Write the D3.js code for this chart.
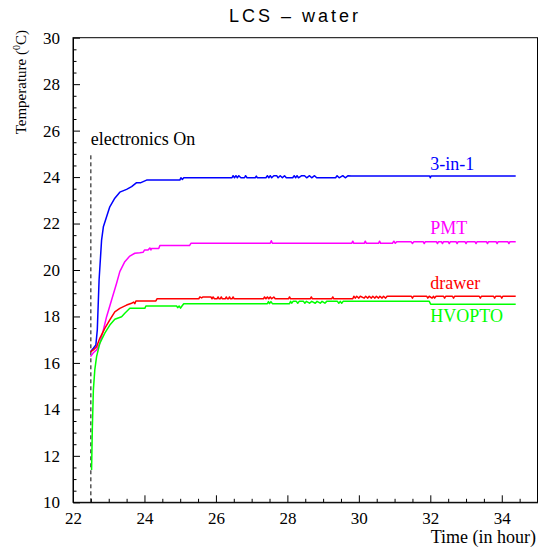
<!DOCTYPE html>
<html>
<head>
<meta charset="utf-8">
<script src="https://cdn.jsdelivr.net/npm/d3@7"></script>
<style>
  body { margin: 0; background: #fff; }
  svg { display: block; }
</style>
</head>
<body>
<svg id="chart" width="538" height="551"></svg>
<script>
// tick values
const xMajor = [22, 24, 26, 28, 30, 32, 34]
const yMajor = [10, 12, 14, 16, 18, 20, 22, 24, 26, 28, 30]

// series values, [time in hour, temperature]
const threeInOne = [
  [22.49, 16.48], [22.57, 16.63], [22.64, 16.77], [22.68, 17.42], [22.73, 19.57],
  [22.80, 21.29], [22.85, 21.86], [22.94, 22.29], [23.03, 22.72], [23.17, 23.09],
  [23.31, 23.35], [23.50, 23.47], [23.64, 23.59], [23.78, 23.76], [23.90, 23.76],
  [24.06, 23.87], [24.99, 23.87], [25.02, 23.97], [25.06, 23.90], [25.10, 23.97],
  [26.45, 23.97], [26.48, 24.06], [26.52, 23.97], [26.56, 24.06], [26.60, 23.97],
  [26.64, 24.06], [26.70, 23.97], [26.80, 23.97], [26.83, 24.06], [26.87, 23.97],
  [27.10, 23.97], [27.13, 24.04], [27.16, 23.97], [27.40, 23.97], [27.44, 24.06],
  [27.48, 23.97], [27.52, 24.06], [27.56, 23.97], [27.62, 24.06], [27.70, 24.06],
  [27.74, 23.97], [27.80, 24.06], [27.86, 23.97], [27.92, 24.06], [27.97, 23.97],
  [28.15, 23.97], [28.19, 24.06], [28.23, 23.97], [28.27, 24.06], [28.31, 23.97],
  [28.40, 24.06], [28.48, 24.06], [28.54, 23.97], [28.62, 24.06], [28.68, 23.97],
  [28.76, 24.06], [28.82, 23.97], [29.35, 23.97], [29.39, 24.06], [29.45, 23.97],
  [29.55, 24.06], [29.62, 23.97], [29.70, 24.06], [29.79, 24.05], [31.98, 24.05],
  [32.00, 23.97], [32.02, 24.05], [34.39, 24.05]
]

const pmt = [
  [22.49, 16.27], [22.57, 16.44], [22.66, 16.56], [22.75, 16.84], [22.85, 17.42],
  [22.94, 17.99], [23.08, 18.71], [23.22, 19.43], [23.31, 19.93], [23.45, 20.36],
  [23.59, 20.60], [23.73, 20.72], [23.87, 20.74], [23.96, 20.76], [24.00, 20.86],
  [24.10, 20.86], [24.15, 20.95], [24.18, 20.86], [24.20, 20.93], [24.40, 20.93],
  [24.43, 21.05], [25.26, 21.05], [25.30, 21.15], [27.52, 21.15], [27.55, 21.26],
  [27.58, 21.15], [29.80, 21.15], [29.83, 21.24], [29.86, 21.15], [30.15, 21.15],
  [30.18, 21.24], [30.21, 21.15], [30.55, 21.15], [30.58, 21.24], [30.61, 21.15],
  [30.94, 21.15], [30.98, 21.24], [31.02, 21.15], [31.06, 21.22], [31.46, 21.22],
  [31.50, 21.14], [31.54, 21.22], [31.80, 21.22], [31.83, 21.14], [31.86, 21.22],
  [32.17, 21.22], [32.20, 21.14], [32.23, 21.22], [32.31, 21.22], [32.34, 21.14],
  [32.37, 21.22], [32.50, 21.22], [32.53, 21.14], [32.56, 21.22], [32.72, 21.22],
  [32.75, 21.14], [32.78, 21.22], [32.97, 21.22], [33.00, 21.14], [33.03, 21.22],
  [33.25, 21.22], [33.28, 21.14], [33.31, 21.22], [33.57, 21.22], [33.60, 21.14],
  [33.63, 21.22], [33.84, 21.22], [33.87, 21.14], [33.90, 21.22], [34.17, 21.22],
  [34.20, 21.14], [34.23, 21.22], [34.39, 21.22]
]

const drawer = [
  [22.49, 16.48], [22.57, 16.56], [22.66, 16.70], [22.75, 17.06], [22.89, 17.49],
  [23.03, 17.85], [23.17, 18.20], [23.31, 18.35], [23.50, 18.49], [23.64, 18.57],
  [23.70, 18.62], [23.73, 18.55], [23.76, 18.67], [24.32, 18.67], [24.35, 18.76],
  [25.52, 18.76], [25.55, 18.84], [25.60, 18.80], [25.64, 18.84], [25.86, 18.84],
  [25.89, 18.76], [25.92, 18.84], [25.96, 18.76], [26.03, 18.76], [26.06, 18.84],
  [26.09, 18.76], [26.12, 18.76], [26.15, 18.84], [26.18, 18.76], [26.26, 18.76],
  [26.29, 18.84], [26.32, 18.76], [26.35, 18.76], [26.38, 18.84], [26.41, 18.76],
  [26.45, 18.76], [26.48, 18.84], [26.51, 18.76], [27.33, 18.76], [27.36, 18.84],
  [27.40, 18.76], [27.44, 18.84], [27.48, 18.76], [27.52, 18.84], [27.56, 18.76],
  [27.62, 18.84], [27.66, 18.76], [28.03, 18.76], [28.06, 18.84], [28.09, 18.76],
  [28.64, 18.76], [28.67, 18.84], [28.70, 18.76], [29.24, 18.76], [29.27, 18.84],
  [29.30, 18.76], [29.83, 18.76], [29.86, 18.87], [29.90, 18.79], [29.94, 18.87],
  [30.00, 18.79], [30.04, 18.87], [30.15, 18.79], [30.19, 18.87], [30.25, 18.79],
  [30.29, 18.87], [30.35, 18.79], [30.39, 18.87], [30.45, 18.79], [30.49, 18.87],
  [30.55, 18.79], [30.59, 18.87], [30.65, 18.79], [30.69, 18.87], [30.75, 18.79],
  [30.79, 18.87], [31.47, 18.87], [31.50, 18.79], [31.53, 18.87], [31.90, 18.87],
  [31.93, 18.79], [31.97, 18.87], [32.05, 18.79], [32.09, 18.87], [32.12, 18.79],
  [32.16, 18.87], [32.37, 18.87], [32.40, 18.79], [32.43, 18.87], [32.62, 18.87],
  [32.65, 18.79], [32.68, 18.87], [33.37, 18.87], [33.40, 18.79], [33.43, 18.87],
  [33.77, 18.87], [33.80, 18.79], [33.83, 18.87], [33.97, 18.87], [34.00, 18.79],
  [34.03, 18.87], [34.39, 18.87]
]

const hvopto = [
  [22.52, 11.39], [22.54, 13.11], [22.57, 14.83], [22.61, 15.70], [22.66, 16.27],
  [22.75, 16.84], [22.89, 17.28], [23.03, 17.63], [23.17, 17.88], [23.36, 17.99],
  [23.45, 18.14], [23.59, 18.35], [24.01, 18.35], [24.04, 18.45], [24.90, 18.45],
  [24.93, 18.38], [24.97, 18.45], [25.01, 18.36], [25.05, 18.45], [25.10, 18.55],
  [27.44, 18.55], [27.47, 18.64], [27.50, 18.55], [27.54, 18.64], [27.58, 18.55],
  [28.06, 18.55], [28.09, 18.65], [28.12, 18.57], [28.16, 18.65], [28.25, 18.65],
  [28.29, 18.57], [28.33, 18.65], [28.45, 18.65], [28.49, 18.57], [28.53, 18.65],
  [28.62, 18.57], [28.68, 18.65], [28.78, 18.57], [28.83, 18.65], [28.92, 18.57],
  [28.97, 18.65], [29.05, 18.57], [29.10, 18.65], [29.40, 18.65], [29.44, 18.57],
  [29.48, 18.65], [29.52, 18.57], [29.56, 18.65], [31.97, 18.65], [32.01, 18.53],
  [34.39, 18.53]
]

const series = [
  { name: '3-in-1', values: threeInOne, color: '#0000ff', labelY: 24.3 },
  { name: 'PMT', values: pmt, color: '#ff00ff', labelY: 21.57 },
  { name: 'drawer', values: drawer, color: '#ff0000', labelY: 19.18 },
  { name: 'HVOPTO', values: hvopto, color: '#00ff00', labelY: 17.76 }
]

const onTime = 22.5

const svg = d3.select('#chart')
const plotLeft = 73, plotRight = 537.5, plotTop = 37.7, plotBottom = 502.3

const x = d3.scaleLinear().domain([22, 35]).range([plotLeft, plotRight])
const y = d3.scaleLinear().domain([10, 30]).range([plotBottom, plotTop])

const xMinor = d3.range(22, 35.01, 0.5).filter((v) => !xMajor.includes(v))
const yMinor = d3.range(10, 30.01, 0.5).filter((v) => !yMajor.includes(v))

// serif tick labels, black tick lines
function styleAxis(g) {
  g.attr('font-family', 'Liberation Serif').attr('font-size', 17)
  g.selectAll('text')
    .style('font-family', '"Liberation Serif", serif')
    .style('font-size', '17px')
    .attr('fill', '#000')
  g.selectAll('line, path').attr('stroke', '#000')
}

// frame
svg.append('rect')
  .attr('x', plotLeft).attr('y', plotTop)
  .attr('width', plotRight - plotLeft).attr('height', plotBottom - plotTop)
  .attr('fill', 'none').attr('stroke', '#000')

// x axis
svg.append('g')
  .attr('transform', `translate(0,${plotBottom})`)
  .call(d3.axisBottom(x).tickValues(xMajor).tickSize(-7).tickSizeOuter(0).tickPadding(9.5).tickFormat(d3.format('d')))
  .call(styleAxis)
svg.append('g')
  .attr('transform', `translate(0,${plotBottom})`)
  .call(d3.axisBottom(x).tickValues(xMinor).tickSize(-3.5).tickSizeOuter(0).tickFormat(''))
  .call((g) => g.select('.domain').remove())
  .call(styleAxis)

// y axis
svg.append('g')
  .attr('transform', `translate(${plotLeft},0)`)
  .call(d3.axisLeft(y).tickValues(yMajor).tickSize(-7).tickSizeOuter(0).tickPadding(13).tickFormat(d3.format('d')))
  .call(styleAxis)
svg.append('g')
  .attr('transform', `translate(${plotLeft},0)`)
  .call(d3.axisLeft(y).tickValues(yMinor).tickSize(-3.5).tickSizeOuter(0).tickFormat(''))
  .call((g) => g.select('.domain').remove())
  .call(styleAxis)

// electronics on marker
svg.append('line')
  .attr('x1', x(onTime)).attr('x2', x(onTime))
  .attr('y1', y(10)).attr('y2', y(25))
  .attr('stroke', '#000').attr('stroke-dasharray', '4,3')

svg.append('text')
  .attr('x', x(onTime)).attr('y', 145)
  .attr('font-family', 'Liberation Serif').attr('font-size', 18)
  .text('electronics On')

// curves
const line = d3.line().x((d) => x(d[0])).y((d) => y(d[1]))

svg.append('g').selectAll('path')
  .data(series)
  .join('path')
  .attr('d', (d) => line(d.values))
  .attr('fill', 'none')
  .attr('stroke', (d) => d.color)
  .attr('stroke-width', 1.5)
  .attr('stroke-linejoin', 'round')

svg.append('g').selectAll('text')
  .data(series)
  .join('text')
  .attr('x', x(32.0))
  .attr('y', (d) => y(d.labelY))
  .attr('fill', (d) => d.color)
  .attr('font-family', 'Liberation Serif').attr('font-size', 18)
  .text((d) => d.name)

// title
svg.append('text')
  .attr('x', 295).attr('y', 22)
  .attr('text-anchor', 'middle')
  .attr('font-family', 'Liberation Sans').attr('font-size', 18)
  .attr('letter-spacing', 3)
  .text('LCS – water')

// axis titles
svg.append('text')
  .attr('x', 536).attr('y', 543)
  .attr('text-anchor', 'end')
  .attr('font-family', 'Liberation Serif').attr('font-size', 18)
  .text('Time (in hour)')

const yTitle = svg.append('text')
  .attr('transform', 'translate(26,30) rotate(-90)')
  .attr('text-anchor', 'end')
  .attr('font-family', 'Liberation Serif').attr('font-size', 15)
yTitle.append('tspan').text('Temperature (')
yTitle.append('tspan').attr('font-size', 10).attr('dy', -6).text('0')
yTitle.append('tspan').attr('dy', 6).text('C)')
</script>
</body>
</html>
